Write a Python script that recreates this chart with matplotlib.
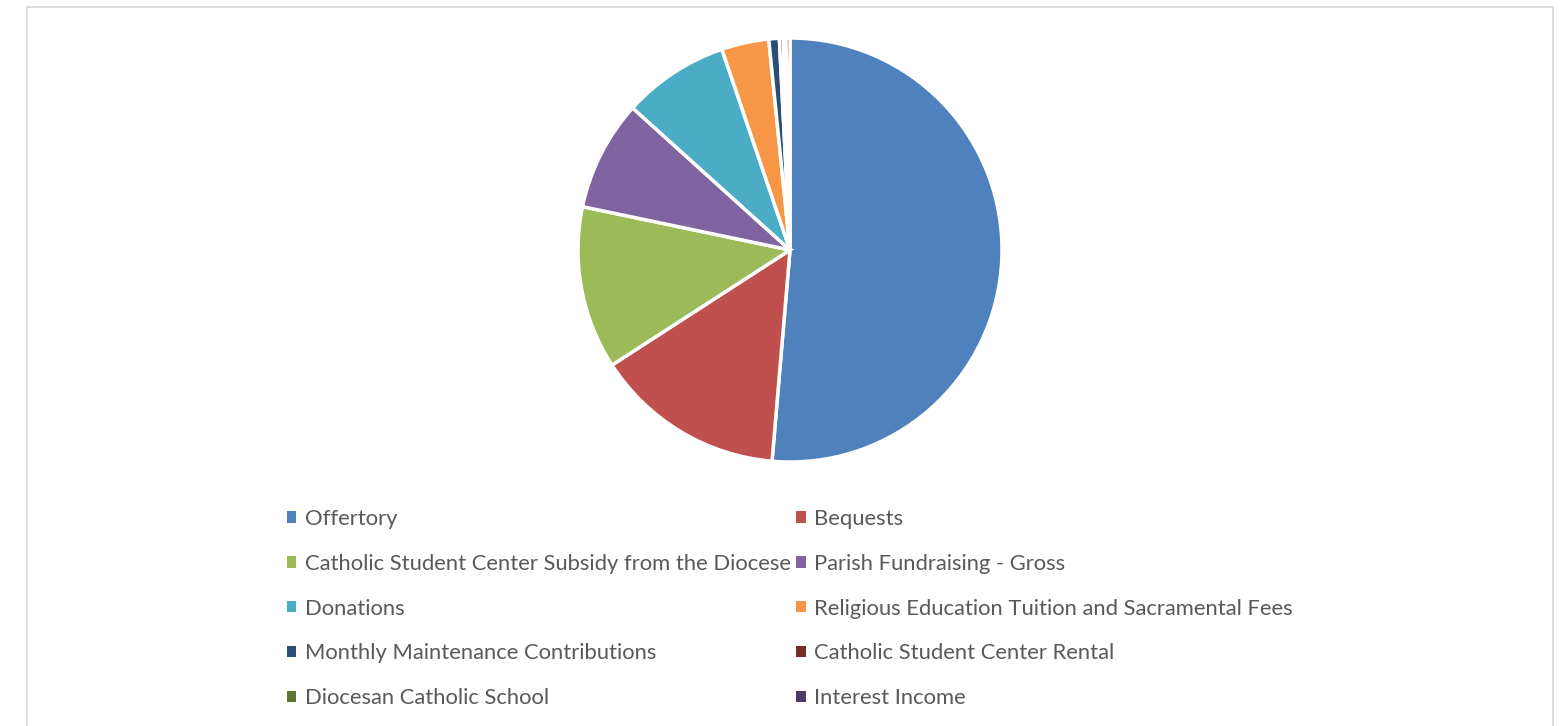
import matplotlib
matplotlib.use("Agg")
import matplotlib.pyplot as plt
from matplotlib.patches import Patch, Rectangle

categories = ["Offertory", "Bequests", "Catholic Student Center Subsidy from the Diocese",
              "Parish Fundraising - Gross", "Donations",
              "Religious Education Tuition and Sacramental Fees",
              "Monthly Maintenance Contributions", "Catholic Student Center Rental",
              "Diocesan Catholic School", "Interest Income"]
values = [51.3, 14.5, 12.4, 8.4, 8.1, 3.6, 0.8, 0.3, 0.2, 0.3]
colors = ["#4F81BD", "#C0504D", "#9BBB59", "#8064A2", "#4BACC6", "#F79646",
          "#2C4D75", "#772C2A", "#5F7530", "#4D3B62"]

W, H = 1563, 726
fig = plt.figure(figsize=(W / 100, H / 100), dpi=100)
fig.patch.set_facecolor("white")

# outer frame
fig.add_artist(Rectangle((27 / W, -0.01), (1553 - 27) / W, (H - 7) / H + 0.01,
                         transform=fig.transFigure, fill=False,
                         edgecolor="#d9d9d9", linewidth=1.2))

cx, cy, r = 790, 250, 212
ax = fig.add_axes([(cx - r) / W, (H - cy - r) / H, 2 * r / W, 2 * r / H])
ax.pie(values, colors=colors, startangle=90, counterclock=False, radius=1,
       wedgeprops=dict(edgecolor="white", linewidth=2.5))
ax.set_xlim(-1.0, 1.0)
ax.set_ylim(-1.0, 1.0)
ax.set_aspect("equal")
ax.axis("off")

handles = [Patch(facecolor=c, edgecolor="none") for c in colors]
order = [0, 2, 4, 6, 8, 1, 3, 5, 7, 9]
leg = fig.legend([handles[i] for i in order], [categories[i] for i in order],
                 ncol=2, loc="upper left", bbox_to_anchor=(287 / W, 1 - 509 / H),
                 frameon=False, handlelength=0.42, handleheight=0.42,
                 handletextpad=0.4, labelspacing=1.13, columnspacing=0.25,
                 borderpad=0, borderaxespad=0,
                 prop={"family": "Lato", "size": 15.8})
for t in leg.get_texts():
    t.set_color("#595959")

fig.savefig("out.png", dpi=100, facecolor="white")
